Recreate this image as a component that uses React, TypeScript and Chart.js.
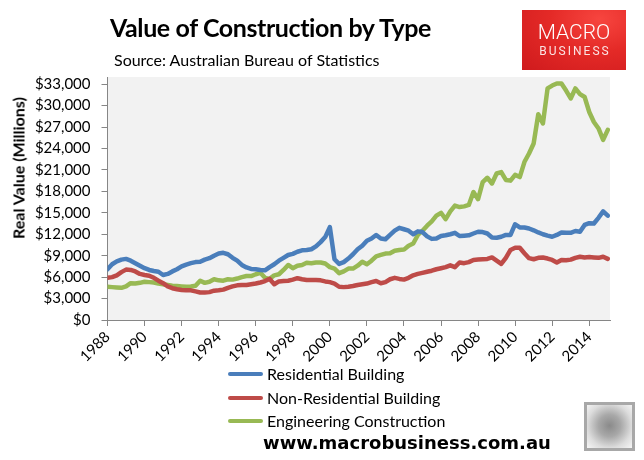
import React, { useEffect, useRef } from 'react';
import { Chart, registerables } from 'chart.js';

Chart.register(...registerables);

// quarterly, starting with Mar-1988
const startYear = 1988;

const residential = [
  7100, 7800, 8200, 8450,
  8550, 8300, 7950, 7600,
  7250, 7000, 6850, 6750,
  6300, 6450, 6800, 7100,
  7500, 7750, 7950, 8100,
  8150, 8450, 8650, 9000,
  9300, 9400, 9200, 8700,
  8300, 7700, 7350, 7150,
  7100, 7000, 6950, 7400,
  7800, 8300, 8700, 9100,
  9250, 9550, 9750, 9800,
  9900, 10300, 10900, 11600,
  13000, 8500, 7850, 8100,
  8600, 9200, 9900, 10400,
  11100, 11400, 11900, 11400,
  11300, 11900, 12500, 12900,
  12700, 12500, 12000, 12400,
  12300, 11700, 11350, 11400,
  11750, 11850, 12000, 12200,
  11750, 11800, 11850, 12100,
  12350, 12300, 12100, 11550,
  11500, 11650, 11900, 11900,
  13400, 12950, 12950, 12800,
  12550, 12250, 12000, 11800,
  11650, 11900, 12250, 12200,
  12200, 12450, 12350, 13300,
  13550, 13500, 14300, 15200,
  14600,
];

const nonResidential = [
  5900, 6000, 6250, 6700,
  7050, 7000, 6800, 6450,
  6300, 6200, 5900, 5500,
  5150, 4700, 4450, 4300,
  4200, 4150, 4150, 4000,
  3850, 3850, 3900, 4100,
  4150, 4250, 4500, 4700,
  4850, 4900, 4900, 5000,
  5100, 5250, 5450, 5750,
  5000, 5400, 5450, 5500,
  5650, 5850, 5700, 5600,
  5600, 5600, 5550, 5400,
  5300, 5100, 4650, 4600,
  4650, 4750, 4900, 5000,
  5100, 5300, 5450, 5150,
  5300, 5700, 5900, 5750,
  5650, 5900, 6250, 6450,
  6600, 6750, 6900, 7100,
  7250, 7400, 7650, 7400,
  8050, 7950, 8100, 8400,
  8450, 8500, 8550, 8750,
  8300, 7850, 8700, 9800,
  10100, 10100, 9350, 8650,
  8500, 8700, 8750, 8600,
  8400, 8050, 8400, 8350,
  8450, 8700, 8850, 8750,
  8800, 8750, 8700, 8850,
  8550,
];

const engineering = [
  4650, 4600, 4550, 4500,
  4700, 5150, 5100, 5200,
  5350, 5300, 5250, 5100,
  5000, 4900, 4800, 4750,
  4700, 4650, 4700, 4800,
  5500, 5200, 5350, 5700,
  5550, 5500, 5700, 5650,
  5800, 6000, 6150, 6150,
  6400, 6600, 5900, 5750,
  6250, 6400, 7000, 7700,
  7250, 7600, 7700, 8000,
  7950, 8050, 8050, 7900,
  7400, 7200, 6550, 6800,
  7200, 7200, 7600, 8150,
  7800, 8300, 8900, 9100,
  9300, 9350, 9700, 9800,
  9850, 10400, 10700, 11900,
  12500, 13200, 13800, 14600,
  15000, 14100, 15200, 16000,
  15800, 15900, 16100, 17900,
  16900, 19300, 19900, 19100,
  20500, 20700, 19600, 19500,
  20300, 20000, 22100, 23300,
  24700, 28800, 27500, 32400,
  32800, 33100, 33100, 32100,
  31000, 32400, 31600, 31200,
  29100, 27700, 26800, 25200,
  26600,
];

const seriesNames = ['Residential Building', 'Non-Residential Building', 'Engineering Construction'];
const seriesColors = ['#4a7ebb', '#be4b48', '#98b954'];
const seriesValues = [residential, nonResidential, engineering];

const xTickYears = [1988, 1990, 1992, 1994, 1996, 1998, 2000, 2002, 2004, 2006, 2008, 2010, 2012, 2014];
const yTickValues = [0, 3000, 6000, 9000, 12000, 15000, 18000, 21000, 24000, 27000, 30000, 33000];

const plotBackground = {
  id: 'plotBackground',
  beforeDraw(chart: Chart) {
    const { ctx, chartArea: a } = chart;
    ctx.save();
    ctx.fillStyle = '#f2f2f2';
    ctx.fillRect(a.left, a.top, a.right - a.left, a.bottom - a.top);
    ctx.restore();
  },
};

const tickFont = { family: 'Lato', size: 15 };

const ConstructionChart: React.FC = () => {
  const canvasRef = useRef<HTMLCanvasElement>(null);
  const chartRef = useRef<Chart | null>(null);

  useEffect(() => {
    if (!canvasRef.current) return;
    const ctx = canvasRef.current.getContext('2d');
    if (!ctx) return;

    if (chartRef.current) chartRef.current.destroy();

    chartRef.current = new Chart(ctx, {
      type: 'line',
      data: {
        datasets: seriesValues.map((vals, k) => ({
          label: seriesNames[k],
          data: vals.map((v, i) => ({ x: startYear + i / 4, y: v })),
          borderColor: seriesColors[k],
          backgroundColor: seriesColors[k],
          borderWidth: 4.5,
          pointRadius: 0,
          tension: 0,
          borderJoinStyle: 'round',
          borderCapStyle: 'round',
        })),
      },
      options: {
        animation: false,
        responsive: false,
        layout: { padding: { top: 77, right: 34, bottom: 0, left: 0 } },
        plugins: { legend: { display: false }, tooltip: { enabled: false } },
        scales: {
          x: {
            type: 'linear',
            min: 1988,
            max: 2015.12,
            afterBuildTicks: (s: any) => {
              s.ticks = xTickYears.map((value) => ({ value }));
            },
            afterFit: (s: any) => {
              s.height = 140;
            },
            ticks: {
              minRotation: 45,
              maxRotation: 45,
              autoSkip: false,
              padding: 2,
              color: '#000',
              font: tickFont,
              callback: (v: any) => String(v),
            },
            grid: { drawOnChartArea: false, drawTicks: true, tickLength: 6, color: '#868686' },
            border: { color: '#868686' },
          },
          y: {
            min: 0,
            max: 34000,
            afterBuildTicks: (s: any) => {
              s.ticks = yTickValues.map((value) => ({ value }));
            },
            afterFit: (s: any) => {
              s.width = 107.5;
            },
            ticks: {
              padding: 11,
              color: '#000',
              font: tickFont,
              callback: (v: any) => '$' + Number(v).toLocaleString('en-US'),
            },
            grid: { drawOnChartArea: false, drawTicks: true, tickLength: 6, color: '#868686' },
            border: { color: '#868686' },
          },
        },
      },
      plugins: [plotBackground],
    });

    return () => chartRef.current?.destroy();
  }, []);

  return <canvas ref={canvasRef} width={644} height={460} style={{ position: 'absolute', left: 0, top: 0, width: 644, height: 460 }} />;
};

export default function App() {
  return (
    <div style={{ position: 'fixed', left: 0, top: 0, width: 644, height: 460, background: '#fff', overflow: 'hidden', fontFamily: 'Lato, sans-serif', color: '#000' }}>
      <ConstructionChart />
      <div style={{ position: 'absolute', left: 110, top: 14.5, fontSize: 25, lineHeight: '25px', fontWeight: 700, letterSpacing: -0.4, whiteSpace: 'nowrap' }}>
        Value of Construction by Type
      </div>
      <div style={{ position: 'absolute', left: 114, top: 51.8, fontSize: 16, lineHeight: '16px', whiteSpace: 'nowrap' }}>
        Source: Australian Bureau of Statistics
      </div>
      <div
        style={{
          position: 'absolute',
          left: 18,
          top: 168,
          transform: 'translate(-50%, -50%) rotate(-90deg)',
          fontSize: 16,
          fontWeight: 700,
          whiteSpace: 'nowrap',
        }}
      >
        Real Value (Millions)
      </div>
      <div
        style={{
          position: 'absolute',
          left: 522,
          top: 10,
          width: 104,
          height: 60,
          background: 'radial-gradient(ellipse at 75% 15%, #f7453f 0%, #e42a27 45%, #cf1a1d 100%)',
          color: '#fff',
          fontFamily: 'Roboto, sans-serif',
          textAlign: 'center',
        }}
      >
        <div style={{ position: 'absolute', left: 0, right: 0, top: 12.3, fontSize: 21, lineHeight: '21px', fontWeight: 300 }}>MACRO</div>
        <div style={{ position: 'absolute', left: 0, right: 0, top: 35.3, fontSize: 12, lineHeight: '12px', letterSpacing: 2, paddingLeft: 2, color: '#fbe3e3' }}>
          BUSINESS
        </div>
      </div>
      {seriesNames.map((name, k) => (
        <div key={name} style={{ position: 'absolute', left: 228, top: 364 + k * 23.5, height: 20, display: 'flex', alignItems: 'center', fontSize: 16, lineHeight: '20px', whiteSpace: 'nowrap' }}>
          <span style={{ display: 'inline-block', width: 35, height: 4, borderRadius: 2, background: seriesColors[k], marginRight: 4 }} />
          {name}
        </div>
      ))}
      <div style={{ position: 'absolute', left: 263, top: 434, fontFamily: '"DejaVu Sans", sans-serif', fontSize: 18, lineHeight: '18px', fontWeight: 700, whiteSpace: 'nowrap' }}>
        www.macrobusiness.com.au
      </div>
      <div
        style={{
          position: 'absolute',
          left: 584,
          top: 402,
          width: 45,
          height: 43,
          border: '3px solid #a8a8a8',
          background: 'radial-gradient(ellipse at 50% 48%, #8a8a8a 0%, #a8a8a8 35%, #dcdcdc 70%, #f6f6f6 100%)',
        }}
      />
    </div>
  );
}
